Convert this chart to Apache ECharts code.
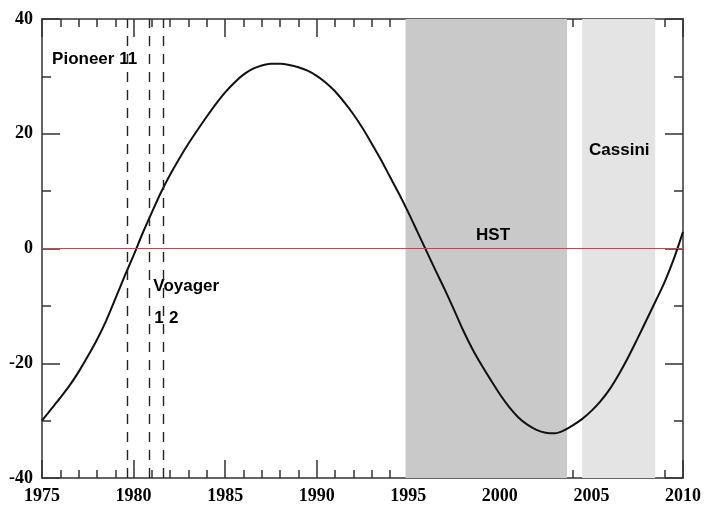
<!DOCTYPE html>
<html><head><meta charset="utf-8">
<script src="https://cdn.jsdelivr.net/npm/echarts@6/dist/echarts.min.js"></script>
<style>html,body{margin:0;padding:0;background:#fff}#c{width:704px;height:506px}</style>
</head><body><div id="c"></div>
<script>
// ---- data ----
const years = [1975,1975.5,1976,1976.5,1977,1977.5,1978,1978.5,1979,1979.5,1980,1980.5,1981,1981.5,1982,1982.5,1983,1983.5,1984,1984.5,1985,1985.5,1986,1986.5,1987,1987.5,1988,1988.5,1989,1989.5,1990,1990.5,1991,1991.5,1992,1992.5,1993,1993.5,1994,1994.5,1995,1995.5,1996,1996.5,1997,1997.5,1998,1998.5,1999,1999.5,2000,2000.5,2001,2001.5,2002,2002.5,2003,2003.5,2004,2004.5,2005,2005.5,2006,2006.5,2007,2007.5,2008,2008.5,2009,2009.5,2010];
const values = [-30.0,-28.0,-26.0,-23.9,-21.5,-18.8,-15.9,-12.6,-8.8,-4.9,-1.2,2.7,6.3,9.8,12.9,15.7,18.3,20.7,23.0,25.2,27.2,28.9,30.3,31.3,31.9,32.2,32.2,32.0,31.6,31.0,30.1,28.9,27.4,25.5,23.4,21.0,18.3,15.5,12.5,9.5,6.3,2.9,-0.5,-3.9,-7.2,-10.7,-14.3,-17.5,-20.3,-22.9,-25.4,-27.6,-29.4,-30.7,-31.6,-32.1,-32.2,-31.7,-30.8,-29.7,-28.3,-26.6,-24.5,-21.9,-19.0,-15.8,-12.5,-9.2,-5.8,-1.8,2.9];
const missionLines = [1979.67, 1980.87, 1981.6];
const hstBand = [1994.85, 2003.67];
const cassiniBand = [2004.49, 2008.48];
const labelTexts = ['Pioneer 11', 'Voyager', '1', '2', 'HST', 'Cassini'];
const labelX = [1975.55, 1981.08, 1981.13, 1981.93, 1998.7, 2004.87];
const labelY = [32.9, -6.6, -12.2, -12.2, 2.3, 17.1];

const serif = '"Liberation Serif","Times New Roman",serif';
const sans = '"Liberation Sans",Arial,sans-serif';
const axisCol = '#333';

function xAx(pos, showLabel) {
  return {
    type: 'value', position: pos, min: 1975, max: 2010, interval: 5,
    axisLine: {show: true, onZero: false, lineStyle: {color: axisCol, width: 1.5}},
    axisTick: {show: true, inside: true, length: 18, lineStyle: {color: axisCol, width: 1.5}},
    minorTick: {show: true, splitNumber: 5, length: 8, lineStyle: {color: axisCol, width: 1.5}},
    splitLine: {show: false}, minorSplitLine: {show: false},
    axisLabel: {show: showLabel, margin: 9, color: '#000', fontFamily: serif, fontWeight: 'bold', fontSize: 18,
      formatter: v => String(v)}
  };
}
function yAx(pos, showLabel) {
  return {
    type: 'value', position: pos, min: -40, max: 40, interval: 20,
    axisLine: {show: true, onZero: false, lineStyle: {color: axisCol, width: 1.5}},
    axisTick: {show: true, inside: true, length: 18, lineStyle: {color: axisCol, width: 1.5}},
    minorTick: {show: true, splitNumber: 2, length: 9, lineStyle: {color: axisCol, width: 1.5}},
    splitLine: {show: false}, minorSplitLine: {show: false},
    axisLabel: {show: showLabel, margin: 9, color: '#000', fontFamily: serif, fontWeight: 'bold', fontSize: 18}
  };
}

const curve = years.map((y, i) => [y, values[i]]);
const labelsData = labelTexts.map((t, i) => ({name: t, value: [labelX[i], labelY[i]]}));

const chart = echarts.init(document.getElementById('c'), null, {renderer: 'canvas'});
chart.setOption({
  animation: false,
  backgroundColor: '#fff',
  grid: {left: 42, right: 21, top: 19, bottom: 28, containLabel: false},
  xAxis: [xAx('bottom', true), xAx('top', false)],
  yAxis: [yAx('left', true), yAx('right', false)],
  series: [
    {
      type: 'line', data: [], z: 1, silent: true,
      markArea: {silent: true, data: [
        [{xAxis: hstBand[0], itemStyle: {color: '#c9c9c9'}}, {xAxis: hstBand[1]}],
        [{xAxis: cassiniBand[0], itemStyle: {color: '#e4e4e4'}}, {xAxis: cassiniBand[1]}]
      ]}
    },
    {
      type: 'line', data: [], z: 2, silent: true,
      markLine: {silent: true, symbol: 'none', label: {show: false},
        data: missionLines.map(x => ({xAxis: x, lineStyle: {color: '#222', width: 1.4, type: [10, 8]}}))
          .concat([{yAxis: 0, lineStyle: {color: '#c84646', width: 1.2, type: 'solid'}}])
      }
    },
    {
      type: 'line', data: curve, z: 3, showSymbol: false, symbol: 'none', smooth: 0.3,
      lineStyle: {color: '#111', width: 2}
    },
    {
      type: 'scatter', data: labelsData, z: 4, symbolSize: 0, silent: true,
      itemStyle: {color: '#000', opacity: 1},
      label: {show: true, position: 'inside', align: 'left', verticalAlign: 'middle',
        formatter: p => p.name, color: '#000', textBorderWidth: 0, opacity: 1,
        fontFamily: sans, fontWeight: 'bold', fontSize: 17}
    }
  ]
});
</script></body></html>
